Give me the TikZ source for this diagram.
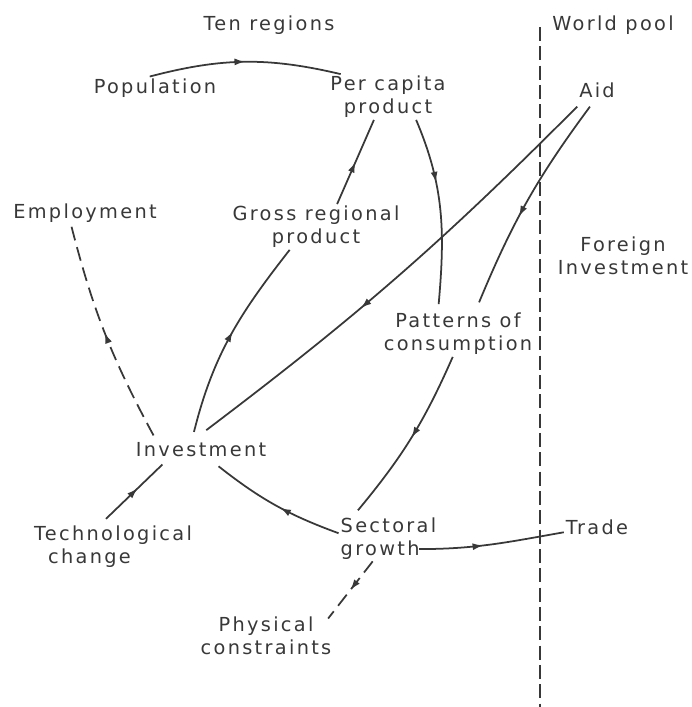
\documentclass[tikz,border=0pt]{standalone}
\usepackage{fontspec}
\setmainfont[LetterSpace=12]{DejaVu Sans}
\usetikzlibrary{arrows.meta,decorations.markings}

\definecolor{ink}{gray}{0.22}

\tikzset{
  lbl/.style={align=center,inner sep=1pt,text=ink,
    font=\fontsize{11}{13}\selectfont},
  link/.style={draw=ink,line width=1pt},
  dlink/.style={link,dash pattern=on 8pt off 4pt},
  divider/.style={draw=ink,line width=0.7pt,dash pattern=on 8pt off 3pt},
  midarrow/.style={postaction={decorate},decoration={markings,
      mark=at position #1 with {\arrow[ink]{Latex[length=6pt,width=4pt]}}}},
  midarrow/.default=0.5
}

\begin{document}
\begin{tikzpicture}
    \useasboundingbox (0,0) rectangle (13.82,-14.14);

    % world pool border
    \coordinate (wtop) at (10.80,-0.54);
    \coordinate (wbot) at (10.80,-14.14);
    \draw [divider] (wtop) -- (wbot);

    \node [lbl] (tenreg) at (5.38,-0.50) {Ten regions};
    \node [lbl] (wpool) at (12.26,-0.50) {World pool};

    \node [lbl] (pop) at (3.10,-1.76) {Population};
    \node [lbl] (pcp) at (7.76,-1.94) {Per capita\\product};
    \node [lbl] (aid) at (11.94,-1.80) {Aid};
    \node [lbl] (emp) at (1.70,-4.26) {Employment};
    \node [lbl] (gross) at (6.32,-4.54) {Gross regional\\product};
    \node [lbl] (foreign) at (12.46,-5.12) {Foreign\\Investment};
    \node [lbl] (patt) at (9.16,-6.68) {Patterns of\\consumption};
    \node [lbl] (inv) at (4.02,-9.00) {Investment};
    \node [lbl,align=left] (tech) at (2.26,-10.94)
      {Technological\\\hspace*{8pt}change};
    \node [lbl,align=left] (sec) at (7.77,-10.77) {Sectoral\\growth};
    \node [lbl] (trade) at (11.94,-10.54) {Trade};
    \node [lbl] (phys) at (5.32,-12.72) {Physical\\constraints};

    % links
    \draw [link,midarrow] ([xshift=-3pt]pop.north) to[bend left=14]
      ([xshift=7pt]pcp.north west);
    \draw [link,midarrow] ([xshift=12pt]gross.north) --
      ([xshift=-8pt]pcp.south);
    \draw [link,midarrow=0.35] ([xshift=16pt]pcp.south) to[out=-67,in=85]
      ([xshift=-11pt,yshift=4pt]patt.north);
    \draw [link,midarrow=0.6] ([yshift=-4pt]aid.south west) to[bend left=4]
      ([xshift=3pt,yshift=6pt]inv.north);
    \draw [link,midarrow=0.58] ([xshift=-4pt,yshift=-4pt]aid.south)
      to[bend right=7] ([xshift=12pt,yshift=5pt]patt.north);
    \draw [link,midarrow] ([xshift=-3pt]patt.south) to[bend left=8]
      ([xshift=11pt,yshift=3pt]sec.north west);
    \draw [link,midarrow=0.46] ([yshift=3pt]sec.west) to[bend left=9]
      ([xshift=10pt,yshift=-4pt]inv.south);
    \draw [link,midarrow=0.56] ([xshift=-4pt,yshift=3pt]tech.north) --
      ([xshift=-22pt,yshift=-3pt]inv.south);
    \draw [dlink,midarrow] ([xshift=-27pt,yshift=3pt]inv.north)
      to[bend left=7] ([xshift=-8pt]emp.south);
    \draw [link,midarrow=0.52] ([xshift=-4pt,yshift=5pt]inv.north)
      to[out=76,in=-128] ([xshift=-15pt]gross.south);
    \draw [link,midarrow=0.44] ([xshift=-11pt,yshift=7pt]sec.south east)
      to[out=0,in=190] ([yshift=-3pt]trade.west);
    \draw [dlink,midarrow] ([xshift=-9pt]sec.south) --
      ([xshift=-3pt,yshift=-2pt]phys.north east);
\end{tikzpicture}
\end{document}
